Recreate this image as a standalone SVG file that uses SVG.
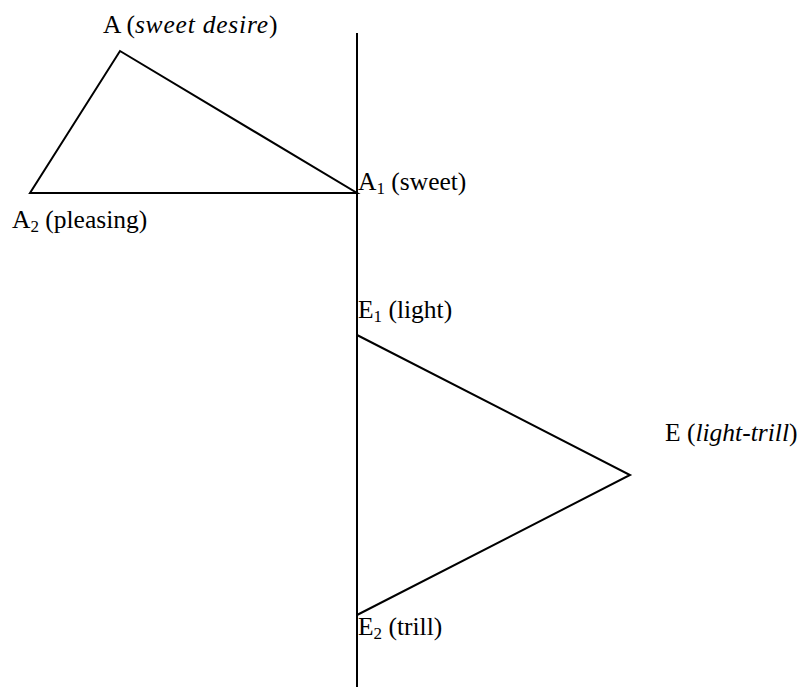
<svg xmlns="http://www.w3.org/2000/svg" width="808" height="687" viewBox="0 0 808 687">
<style>
.t{font-family:"Liberation Serif","Times New Roman",serif;font-size:25.5px;fill:#000}
.s{font-size:17px}
.ln{stroke:#000;stroke-width:2;fill:none}
</style>
<rect width="808" height="687" fill="#fff"/>
<g id="connectors">
<line class="ln" x1="357" y1="33" x2="357" y2="687"/>
<polygon class="ln" points="120,51 357,193 30,193"/>
<polygon class="ln" points="357,335 630,475 357,615"/>
</g>
<g id="nodeA"><text class="t" x="103" y="33">A (<tspan font-style="italic" letter-spacing="0.8">sweet desire</tspan>)</text></g>
<g id="nodeA1"><text class="t" x="358" y="190">A<tspan class="s" dy="4">1</tspan><tspan dy="-4"> (sweet)</tspan></text></g>
<g id="nodeA2"><text class="t" x="12" y="228">A<tspan class="s" dy="4">2</tspan><tspan dy="-4"> (pleasing)</tspan></text></g>
<g id="nodeE1"><text class="t" x="358" y="318">E<tspan class="s" dy="4">1</tspan><tspan dy="-4"> (light)</tspan></text></g>
<g id="nodeE"><text class="t" x="665" y="441">E (<tspan font-style="italic">light-trill</tspan>)</text></g>
<g id="nodeE2"><text class="t" x="358" y="635">E<tspan class="s" dy="4">2</tspan><tspan dy="-4"> (trill)</tspan></text></g>
</svg>
